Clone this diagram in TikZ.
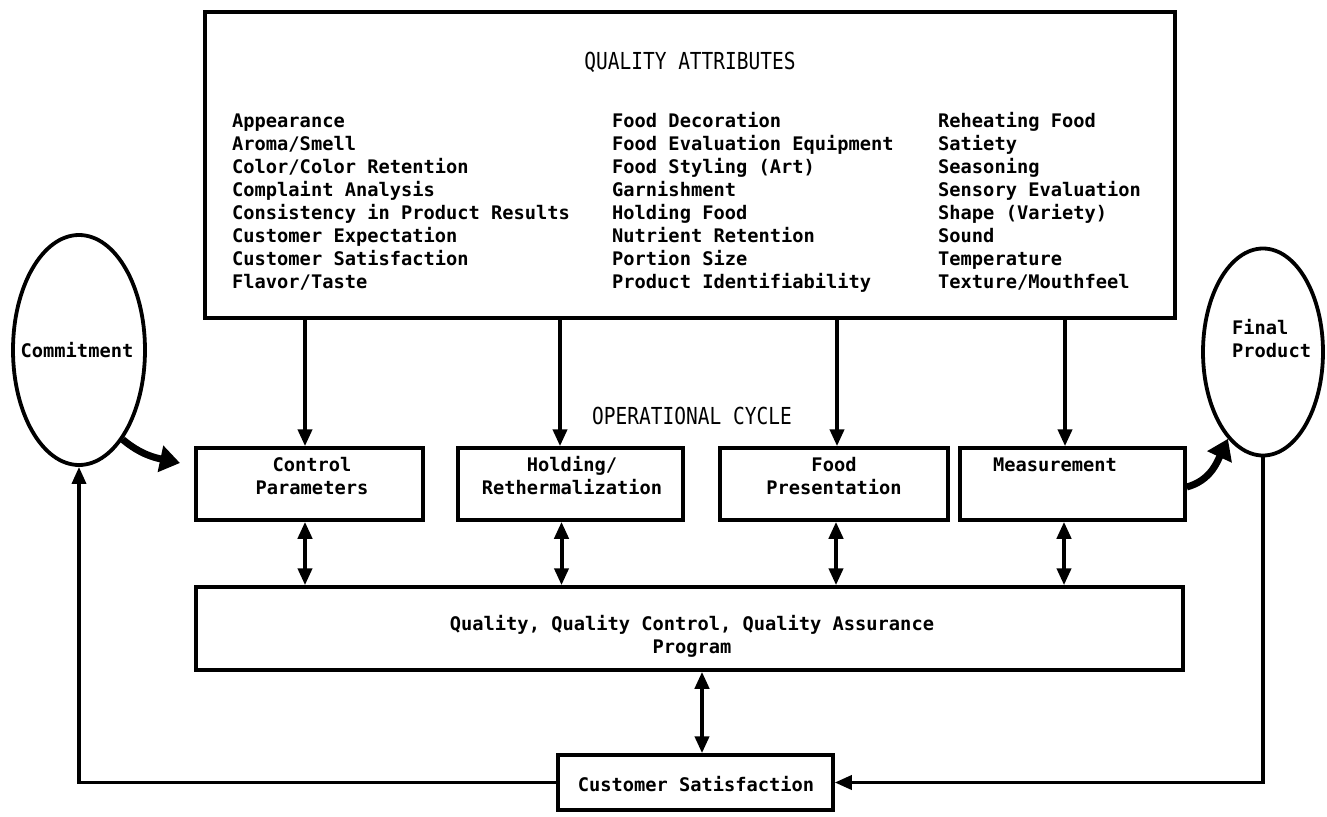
\documentclass[tikz,border=0pt]{standalone}
\usepackage{fontspec}
\newfontfamily\dfont{DejaVu Sans Mono}
\usetikzlibrary{arrows.meta,calc,shapes.geometric}
\begin{document}
\begin{tikzpicture}[x=1pt,y=-1pt,
  boxshape/.style={draw,line width=3.5pt,rectangle,inner sep=0pt},
  ovalshape/.style={draw,line width=3.8pt,ellipse,inner sep=0pt},
  txt/.style={font=\dfont\bfseries\fontsize{18.7}{23}\selectfont,inner sep=0pt},
  head/.style={font=\dfont\fontsize{19.5}{23}\selectfont,inner sep=0pt},
  arr/.style={line width=4pt,-{Triangle[length=17pt,width=14pt]}},
  darr/.style={line width=4pt,{Triangle[length=17pt,width=14pt]}-{Triangle[length=17pt,width=14pt]}},
  loopline/.style={line width=3.5pt,-{Triangle[length=17pt,width=14pt]}},
  bigarr/.style={line width=7pt,-{Triangle[length=20pt,width=26pt]}}]
\useasboundingbox (0,0) rectangle (1327,816);
\fill[white] (0,0) rectangle (1327,816);

% top box
\node[boxshape,minimum width=970pt,minimum height=306pt] (qa) at (690,165) {};
\node[head] (qah) at (690,62) {\scalebox{1}[1.2]{QUALITY ATTRIBUTES}};
\node[txt,anchor=north west,align=left] (col1) at (232,111) {\strut Appearance\\Aroma/Smell\\Color/Color Retention\\Complaint Analysis\\Consistency in Product Results\\Customer Expectation\\Customer Satisfaction\\Flavor/Taste};
\node[txt,anchor=north west,align=left] (col2) at (612,111) {\strut Food Decoration\\Food Evaluation Equipment\\Food Styling (Art)\\Garnishment\\Holding Food\\Nutrient Retention\\Portion Size\\Product Identifiability};
\node[txt,anchor=north west,align=left] (col3) at (938,111) {\strut Reheating Food\\Satiety\\Seasoning\\Sensory Evaluation\\Shape (Variety)\\Sound\\Temperature\\Texture/Mouthfeel};

% operational cycle
\node[head] (oc) at (692,416) {\scalebox{1}[1.2]{OPERATIONAL CYCLE}};
\node[boxshape,minimum width=227pt,minimum height=72pt] (cp) at (309.5,484) {};
\node[boxshape,minimum width=225pt,minimum height=72pt] (hr) at (570.5,484) {};
\node[boxshape,minimum width=228pt,minimum height=72pt] (fp) at (834,484) {};
\node[boxshape,minimum width=225pt,minimum height=72pt] (ms) at (1072.5,484) {};
\node[txt,align=center] (cpt) at (312,476) {Control\\Parameters};
\node[txt,align=center] (hrt) at (572,476) {Holding/\\Rethermalization};
\node[txt,align=center] (fpt) at (834,476) {Food\\Presentation};
\node[txt] (mst) at (1055,465) {Measurement};

% program box
\node[boxshape,minimum width=987pt,minimum height=83pt] (q) at (689.5,628.5) {};
\node[txt,align=center] (qt) at (692,636) {Quality, Quality Control, Quality Assurance\\Program};

% customer satisfaction
\node[boxshape,minimum width=275pt,minimum height=55pt] (cs) at (695.5,782.5) {};
\node[txt] (cst) at (696,784) {Customer Satisfaction};

% ellipses
\node[ovalshape,minimum width=132pt,minimum height=230pt] (cm) at (79,350) {};
\node[txt] (cmt) at (77,350) {Commitment};
\node[ovalshape,minimum width=120pt,minimum height=207pt] (fe) at (1263,352) {};
\node[txt,align=left,anchor=west] (fet) at (1232,339) {Final\\Product};

% arrows from quality attributes
\draw[arr] ([xshift=-4.5pt]cp.north |- qa.south) -- ([xshift=-4.5pt]cp.north);
\draw[arr] ([xshift=-10.5pt]hr.north |- qa.south) -- ([xshift=-10.5pt]hr.north);
\draw[arr] ([xshift=3pt]fp.north |- qa.south) -- ([xshift=3pt]fp.north);
\draw[arr] ([xshift=-7.5pt]ms.north |- qa.south) -- ([xshift=-7.5pt]ms.north);

% double arrows to program box
\draw[darr] ([xshift=-4.5pt]cp.south) -- ([xshift=-4.5pt]cp.south |- q.north);
\draw[darr] ([xshift=-9pt]hr.south) -- ([xshift=-9pt]hr.south |- q.north);
\draw[darr] ([xshift=2pt]fp.south) -- ([xshift=2pt]fp.south |- q.north);
\draw[darr] ([xshift=-8.5pt]ms.south) -- ([xshift=-8.5pt]ms.south |- q.north);
\coordinate (qx) at (702,700);
\draw[darr] (qx |- q.south) -- (qx |- cs.north);

% feedback loops
\draw[loopline] (cs.west) -| (cm.south);
\draw[loopline] (fe.south) |- (cs.east);

% big curved arrows
\coordinate (tipA) at (180,463);
\draw[bigarr] (cm.-64) to[out=-40,in=168] (tipA);
\draw[bigarr] ([yshift=-3pt]ms.east) to[out=15,in=-115] (fe.-112);
\end{tikzpicture}
\end{document}
